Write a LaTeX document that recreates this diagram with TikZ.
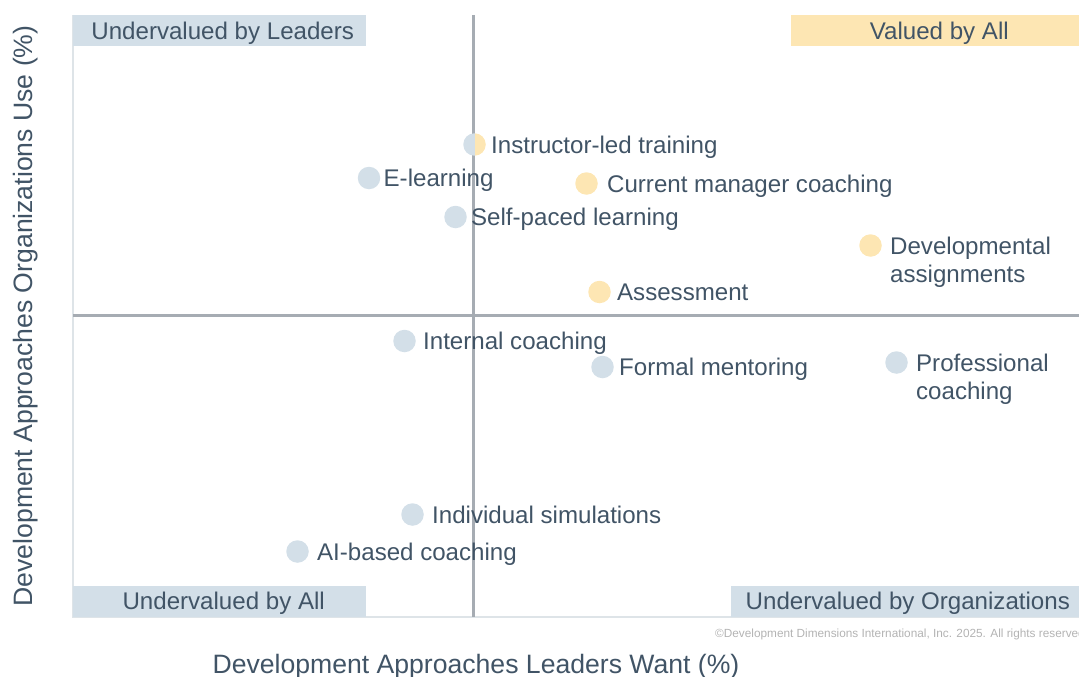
\documentclass[tikz,border=0pt]{standalone}
\usepackage{fontspec}
\setmainfont{Liberation Sans}
\usetikzlibrary{positioning}

\definecolor{inkslate}{HTML}{415466}
\definecolor{useblue}{HTML}{D3DFE8}
\definecolor{wantgold}{HTML}{FDE6B3}
\definecolor{axisgray}{HTML}{A6ACB3}
\definecolor{framegray}{HTML}{DEE4E8}
\definecolor{notegray}{HTML}{B3B3B3}

\begin{document}
\begin{tikzpicture}[
  x=1pt, y=-1pt,
  point/.style={circle, inner sep=0pt, minimum size=22.5pt},
  under/.style={point, fill=useblue},
  valued/.style={point, fill=wantgold},
  lbl/.style={inner sep=0pt, text=inkslate, font=\fontsize{24.1}{28}\selectfont, text height=17.3pt, text depth=0pt},
  lbltwo/.style={inner sep=0pt, text=inkslate, font=\fontsize{24.1}{28}\selectfont, align=left},
  quad/.style={inner sep=0pt, text=inkslate, font=\fontsize{24.1}{28}\selectfont, text height=17.3pt, text depth=0pt, minimum height=31pt},
  axis/.style={draw=axisgray, line width=2.2pt},
  frame/.style={draw=framegray, line width=1.2pt},
  title/.style={inner sep=0pt, text=inkslate, font=\fontsize{26.6}{30}\selectfont},
  note/.style={inner sep=0pt, text=notegray, font=\fontsize{11.8}{14}\selectfont}
]
\useasboundingbox (0,0) rectangle (1079,677);

% Plot corners
\coordinate (NW) at (73,15);
\coordinate (NE) at (1079,15);
\coordinate (SW) at (73,617);
\coordinate (SE) at (1079,617);
\coordinate (vTop) at (473.5,15);
\coordinate (vBot) at (473.5,617);
\coordinate (hLeft) at (73,315.5);
\coordinate (hRight) at (1079,315.5);

% Frame and quadrant axes
\draw[frame] (NW) -- (SW) -- (SE);
\draw[axis] (vTop) -- (vBot);
\draw[axis] (hLeft) -- (hRight);

% Quadrant names
\node[quad, fill=useblue, minimum width=293pt, anchor=north west] (qLeaders) at (NW) {\hspace*{6pt}Undervalued by Leaders};
\node[quad, fill=wantgold, minimum width=288pt, anchor=north east] (qAll) at (NE) {\hspace*{9pt}Valued by All};
\node[quad, fill=useblue, minimum width=293pt, anchor=south west] (qNone) at (SW) {\hspace*{8pt}Undervalued by All};
\node[quad, fill=useblue, minimum width=348pt, anchor=south east] (qOrgs) at (SE) {\hspace*{6pt}Undervalued by Organizations};

% Points
\node[point, path picture={
    \fill[useblue] (path picture bounding box.south west) rectangle (path picture bounding box.north);
    \fill[wantgold] (path picture bounding box.north) rectangle (path picture bounding box.south east);
  }] (dInstr) at (474.5,144.5) {};
\node[under] (dElearn) at (369,178) {};
\node[valued] (dManager) at (586.5,183.5) {};
\node[under] (dSelf) at (455.5,217) {};
\node[valued] (dAssign) at (870.5,245.5) {};
\node[valued] (dAssess) at (599.5,292) {};
\node[under] (dInternal) at (404.5,341) {};
\node[under] (dMentor) at (602.5,367) {};
\node[under] (dProf) at (896.5,362.5) {};
\node[under] (dSim) at (412.5,514.5) {};
\node[under] (dAI) at (297.5,551.5) {};

% Point labels
\node[lbl, right=5pt of dInstr] (lInstr) {Instructor-led training};
\node[lbl, right=3pt of dElearn] (lElearn) {E-learning};
\node[lbl, right=9pt of dManager] (lManager) {Current manager coaching};
\node[lbl, right=4pt of dSelf] (lSelf) {Self-paced learning};
\node[lbltwo, right=8pt of dAssign, yshift=-17pt] (lAssign) {Developmental\\assignments};
\node[lbl, right=6pt of dAssess] (lAssess) {Assessment};
\node[lbl, right=7pt of dInternal] (lInternal) {Internal coaching};
\node[lbl, right=5pt of dMentor] (lMentor) {Formal mentoring};
\node[lbltwo, right=8pt of dProf, yshift=-17pt] (lProf) {Professional\\coaching};
\node[lbl, right=8pt of dSim] (lSim) {Individual simulations};
\node[lbl, right=8pt of dAI] (lAI) {AI-based coaching};

% Axis titles and note
\node[note, anchor=base west] (cNote) at (715,637) {©Development Dimensions International, Inc. 2025. All rights reserved};
\node[title, anchor=base] (xTitle) at (476,673) {Development Approaches Leaders Want (\%)};
\node[title, rotate=90, anchor=base] (yTitle) at (32,316) {Development Approaches Organizations Use (\%)};

\end{tikzpicture}
\end{document}
